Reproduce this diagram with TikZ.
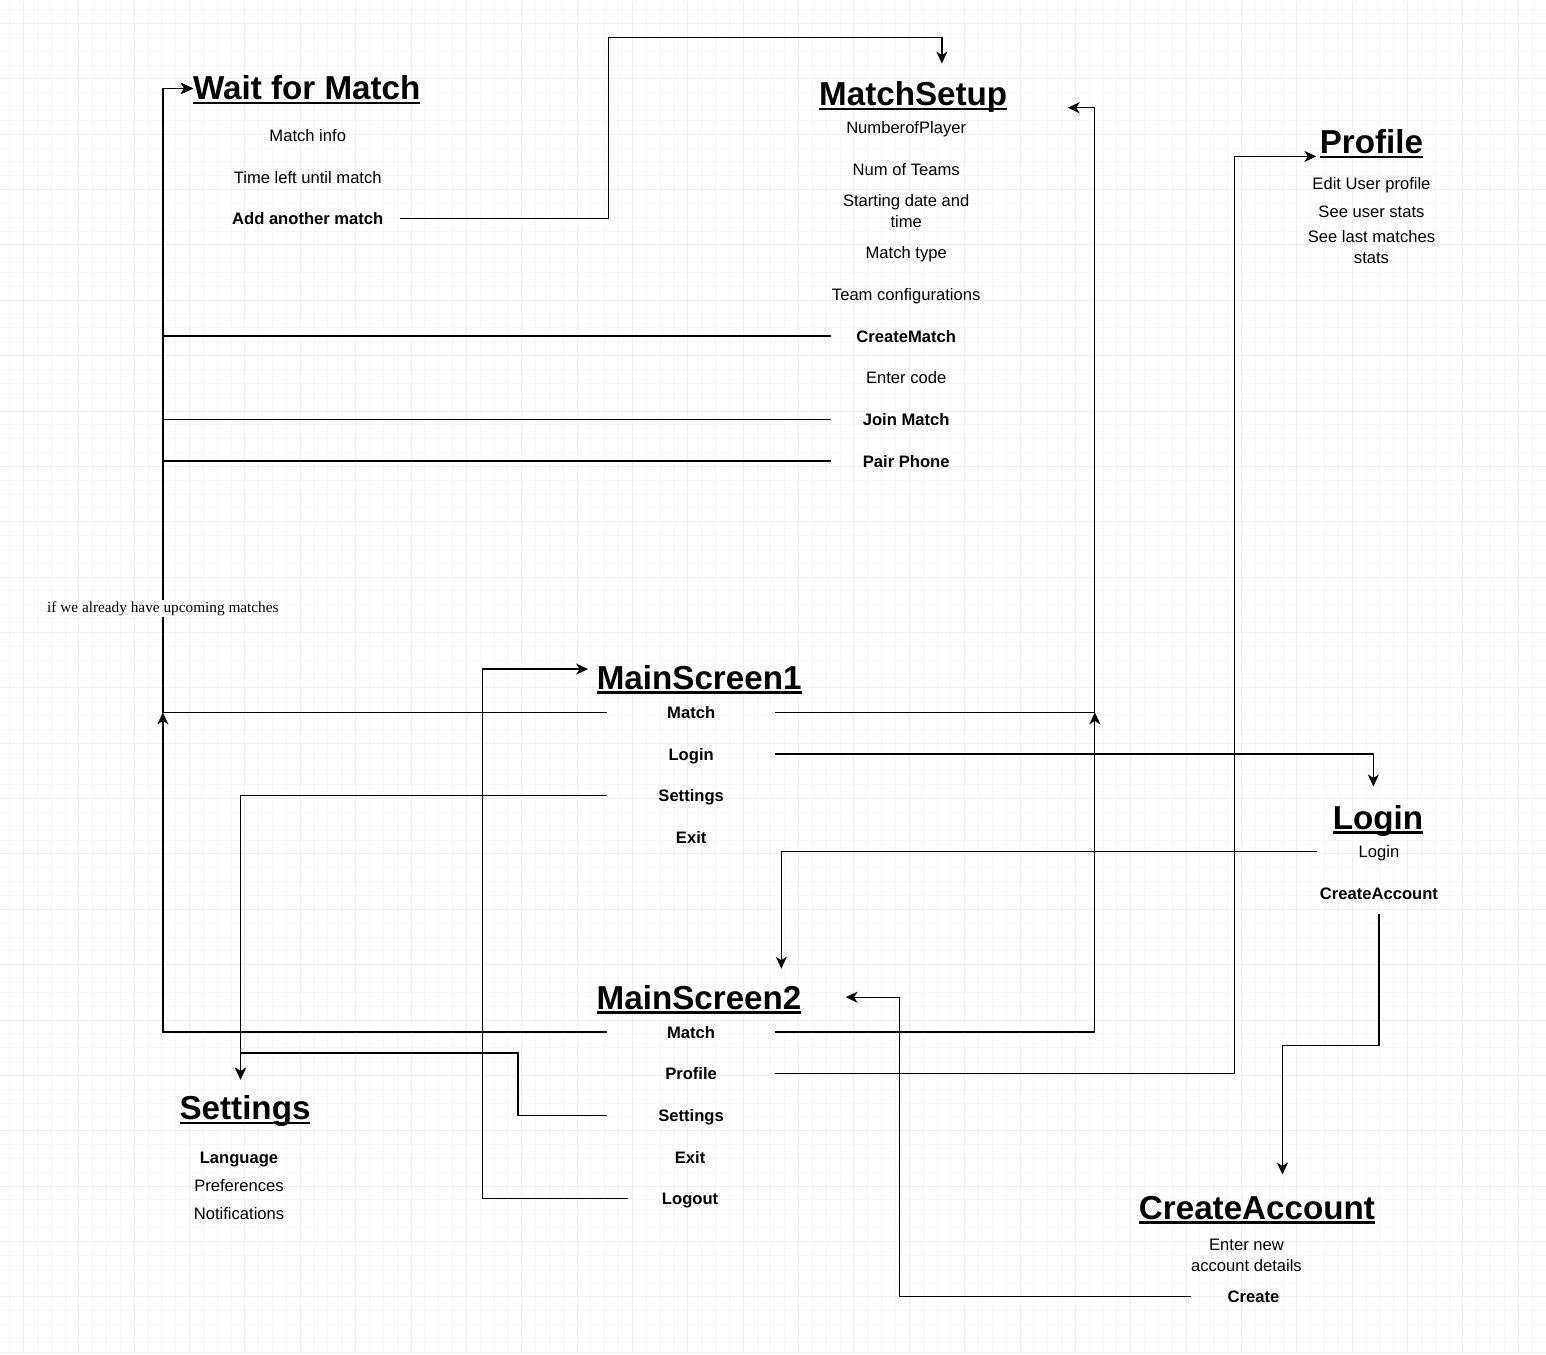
\documentclass[tikz,border=0pt]{standalone}
\usepackage{fontspec}
\setmainfont{Liberation Sans}
\newfontfamily\remarkfont{Liberation Serif}
\usepackage{tikz}
\usetikzlibrary{arrows.meta, positioning}

\newsavebox\titlebox
\newcommand{\titleline}[1]{\sbox\titlebox{#1}\rlap{\rule[-4.6pt]{\wd\titlebox}{2.5pt}}\usebox\titlebox}

\begin{document}
\begin{tikzpicture}[x=1pt, y=1pt, node distance=41.7pt, on grid,
        screen/.style={font=\fontsize{33.2}{40}\selectfont\bfseries, inner sep=0pt, text height=24pt, text depth=6pt, anchor=base west},
        item/.style={font=\fontsize{16.6}{21}\selectfont, inner sep=0pt, text height=15.9pt, text depth=3.6pt, minimum width=124pt, minimum height=41.5pt},
        action/.style={item, font=\fontsize{16.6}{21}\selectfont\bfseries},
        wide/.style={minimum width=168pt},
        twoline/.style={text height={}, text depth={}, align=center},
        arrow/.style={-{Stealth[length=12pt, width=11pt, inset=3.5pt]}, line width=1.3pt},
        remark/.style={font=\remarkfont\fontsize{15.3}{18}\selectfont, fill=white, inner sep=1.5pt},
        gridminor/.style={black!3, line width=1pt},
        gridmajor/.style={black!6, line width=1pt}]

        % Fondo y cuadricula
        \fill[white] (0,0) rectangle (1546,-1354);
        \draw[gridminor, shift={(23,-23)}, step=13.85pt] (-23,23) grid (1523,-1331);
        \draw[gridmajor, shift={(23,-23)}, step=55.4pt] (-23,23) grid (1523,-1331);
        \useasboundingbox (0,0) rectangle (1546,-1354);

        % Wait for Match
        \node[screen] (wait) at (192.5,-99) {\titleline{Wait for Match}};
        \node[item, below=45pt of wait, xshift=1pt] (minfo) {Match info};
        \node[item, below=of minfo] (tleft) {Time left until match};
        \node[action, below=of tleft, minimum width=184pt] (addmatch) {Add another match};

        % MatchSetup
        \node[screen] (msetup) at (819,-105) {\titleline{MatchSetup}};
        \node[item, below=31.3pt of msetup, xshift=-7pt] (nplayer) {NumberofPlayer};
        \node[item, below=of nplayer] (nteams) {Num of Teams};
        \node[item, twoline, below=of nteams] (sdate) {Starting date and\\time};
        \node[item, below=of sdate] (mtype) {Match type};
        \node[item, below=of mtype] (tconf) {Team configurations};
        \node[action, below=of tconf, minimum width=151pt] (createm) {CreateMatch};
        \node[item, below=of createm] (ecode) {Enter code};
        \node[action, below=of ecode, minimum width=151pt] (joinm) {Join Match};
        \node[action, below=of joinm, minimum width=151pt] (pairp) {Pair Phone};

        % Profile
        \node[screen] (profile) at (1320,-153.3) {\titleline{Profile}};
        \node[item, below=39pt of profile] (edituser) {Edit User profile};
        \node[item, below=27.7pt of edituser] (ustats) {See user stats};
        \node[item, twoline, below=35.7pt of ustats] (lstats) {See last matches\\stats};

        % MainScreen1
        \node[screen] (ms1) at (596.5,-689.3) {\titleline{MainScreen1}};
        \node[action, wide, below=32pt of ms1, xshift=-8pt] (ms1match) {Match};
        \node[action, wide, below=of ms1match] (ms1login) {Login};
        \node[action, wide, below=of ms1login] (ms1set) {Settings};
        \node[action, wide, below=of ms1set] (ms1exit) {Exit};

        % Login
        \node[screen] (login) at (1333,-829.3) {\titleline{Login}};
        \node[item, below=31.4pt of login, xshift=1pt] (loginitem) {Login};
        \node[action, below=41.3pt of loginitem] (logca) {CreateAccount};

        % MainScreen2
        \node[screen] (ms2) at (596.4,-1009.3) {\titleline{MainScreen2}};
        \node[action, wide, below=32pt of ms2, xshift=-8pt] (ms2match) {Match};
        \node[action, wide, below=of ms2match] (ms2prof) {Profile};
        \node[action, wide, below=of ms2prof] (ms2set) {Settings};
        \node[action, below=of ms2set, xshift=-1pt] (ms2exit) {Exit};
        \node[action, below=of ms2exit] (ms2logout) {Logout};

        % Settings
        \node[screen] (settings) at (179,-1120) {\titleline{Settings}};
        \node[action, below=46.7pt of settings, xshift=-6pt] (lang) {Language};
        \node[item, below=28pt of lang] (prefs) {Preferences};
        \node[item, below=28pt of prefs] (notif) {Notifications};

        % CreateAccount
        \node[screen] (cacc) at (1139,-1219.3) {\titleline{CreateAccount}};
        \node[item, twoline, below=45.6pt of cacc, xshift=-10.5pt] (details) {Enter new\\account details};
        \node[action, below=40.8pt of details, xshift=7pt] (create) {Create};

        % Puntos de entrada
        \coordinate (waitin) at ([yshift=2pt]wait.west);
        \coordinate (leftbus) at ([xshift=-30pt]waitin);
        \coordinate (msetuptop) at ([xshift=28.7pt,yshift=17.7pt]msetup.north);
        \coordinate (msetupin) at ([xshift=60.3pt,yshift=-11.3pt]msetup.east);
        \coordinate (rightbus) at ([xshift=27.2pt]msetupin);
        \coordinate (profilein) at ([xshift=-3.3pt,yshift=-11.7pt]profile.west);
        \coordinate (ms1in) at ([xshift=-8.5pt,yshift=11.3pt]ms1.west);
        \coordinate (loginin) at ([xshift=-4.6pt,yshift=18.6pt]login.north);
        \coordinate (ms2top) at ([xshift=82.3pt,yshift=16.3pt]ms2.north);
        \coordinate (ms2in) at ([xshift=44pt,yshift=3pt]ms2.east);
        \coordinate (settingsin) at ([xshift=-4.5pt,yshift=16pt]settings.north);
        \coordinate (caccin) at ([xshift=25.5pt,yshift=20.3pt]cacc.north);

        % Conexiones hacia Wait for Match
        \draw[arrow] (ms1match.west) -| node[remark, pos=0.583] {if we already have upcoming matches} (leftbus) -- (waitin);
        \draw[arrow] (createm.west) -| (leftbus) -- (waitin);
        \draw[arrow] (joinm.west) -| (leftbus) -- (waitin);
        \draw[arrow] (pairp.west) -| (leftbus) -- (waitin);
        \draw[arrow] (ms2match.west) -| (ms1match.west -| leftbus);

        % Conexiones hacia MatchSetup
        \draw[arrow] (addmatch.east) -- ++(208.4,0) |- ([yshift=26pt]msetuptop) -- (msetuptop);
        \draw[arrow] (ms1match.east) -| (rightbus) -- (msetupin);
        \draw[arrow] (ms2match.east) -| (ms1match.east -| rightbus);

        % Resto de conexiones
        \draw[arrow] (ms1login.east) -| (loginin);
        \draw[arrow] (ms1set.west) -| (settingsin);
        \draw[arrow] (ms2set.west) -- ++(-89,0) |- ([yshift=26.7pt]settingsin) -- (settingsin);
        \draw[arrow] (ms2logout.west) -- ++(-145.3,0) |- (ms1in);
        \draw[arrow] (ms2prof.east) -- ++(459.5,0) |- (profilein);
        \draw[arrow] (loginitem.west) -| (ms2top);
        \draw[arrow] (logca.south) -- ++(0,-132) -| (caccin);
        \draw[arrow] (create.west) -- ++(-291.9,0) |- (ms2in);

\end{tikzpicture}
\end{document}
